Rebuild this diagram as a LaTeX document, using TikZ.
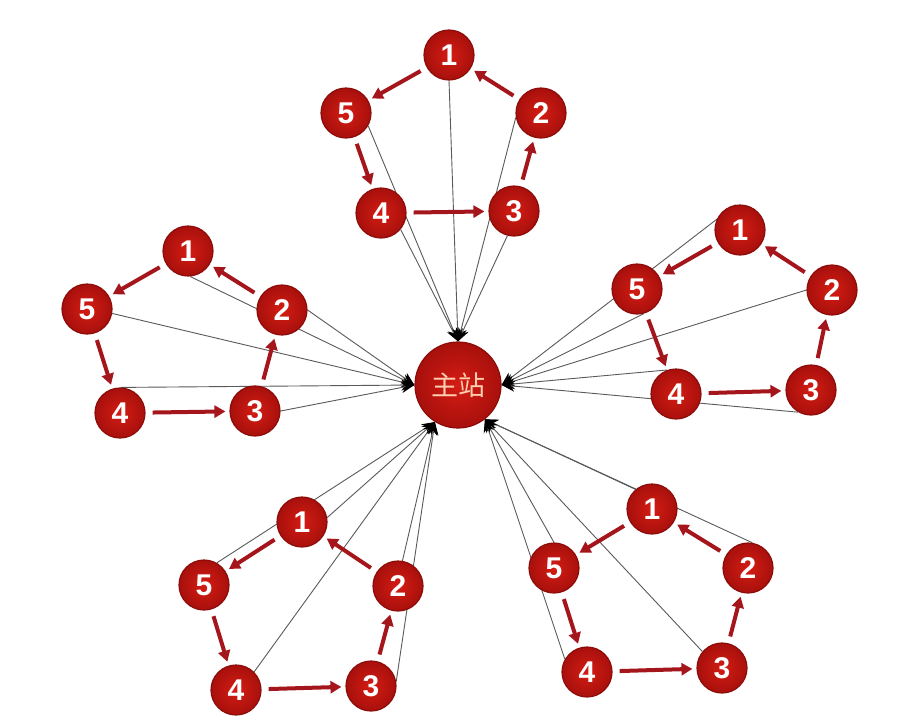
\documentclass[tikz,border=0pt]{standalone}
\usepackage{fontspec}
\setmainfont{Liberation Sans}
\newfontfamily\cjk{Noto Sans CJK SC}
\usetikzlibrary{arrows.meta}
\definecolor{nodered}{RGB}{212,28,20}
\definecolor{noderim}{RGB}{168,16,12}
\definecolor{nodeedge}{RGB}{140,12,10}
\definecolor{arrred}{RGB}{165,22,28}
\definecolor{linegray}{RGB}{90,90,90}
\definecolor{zhutext}{RGB}{255,205,175}
\pgfdeclarelayer{bg}
\pgfdeclarelayer{lines}
\pgfsetlayers{bg,lines,main}
\tikzset{
  station/.style={circle, minimum size=50pt, inner sep=0pt, inner color=nodered, outer color=noderim, draw=nodeedge, line width=1.2pt, text=white, font=\bfseries\fontsize{30}{30}\selectfont},
  master/.style={circle, minimum size=86pt, inner sep=0pt, inner color=nodered, outer color=noderim, draw=nodeedge, line width=1.2pt, text=zhutext, font=\cjk\fontsize{27}{27}\selectfont},
  ring/.style={draw=arrred, line width=4pt, -{Triangle[length=11pt,width=12pt]}, shorten <=7pt, shorten >=4pt},
  feed/.style={draw=linegray, line width=0.9pt, -{Stealth[length=13pt,width=11pt,black]}}
}
\begin{document}
\begin{tikzpicture}[x=1pt,y=-1pt]
\useasboundingbox (0,0) rectangle (902,721);
\begin{pgfonlayer}{bg}
\fill[white] (0,0) rectangle (902,721);
\end{pgfonlayer}
% master
\node[master] (M) at (458,385) {主站};
% top group
\node[station] (T1) at (449,55) {1};
\node[station] (T2) at (541,113) {2};
\node[station] (T3) at (514,211) {3};
\node[station] (T4) at (381,213) {4};
\node[station] (T5) at (346,113) {5};
% left group
\node[station] (L1) at (188,251) {1};
\node[station] (L2) at (282,310) {2};
\node[station] (L3) at (255,411) {3};
\node[station] (L4) at (120,413) {4};
\node[station] (L5) at (87,309) {5};
% right group
\node[station] (R1) at (740,230) {1};
\node[station] (R2) at (832,290) {2};
\node[station] (R3) at (811,390) {3};
\node[station] (R4) at (676,394) {4};
\node[station] (R5) at (637,289) {5};
% bottom-left group
\node[station] (A1) at (302,522) {1};
\node[station] (A2) at (398,586) {2};
\node[station] (A3) at (371,686) {3};
\node[station] (A4) at (236,690) {4};
\node[station] (A5) at (204,585) {5};
% bottom-right group
\node[station] (B1) at (652,509) {1};
\node[station] (B2) at (748,568) {2};
\node[station] (B3) at (722,668) {3};
\node[station] (B4) at (587,672) {4};
\node[station] (B5) at (554,568) {5};
% ring arrows
\foreach \g in {T,L,R,A,B}{
  \draw[ring] (\g1) -- (\g5);
  \draw[ring] (\g5) -- (\g4);
  \draw[ring] (\g4) -- (\g3);
  \draw[ring] (\g3) -- (\g2);
  \draw[ring] (\g2) -- (\g1);
}
% feed lines
\begin{pgfonlayer}{lines}
\draw[feed] (T5.-30) -- (M.90);
\draw[feed] (T1.-90) -- (M.90);
\draw[feed] (T2.190) -- (M.90);
\draw[feed] (T4.-40) -- (M.90);
\draw[feed] (T3.-105) -- (M.90);
\draw[feed] (L1.-85) -- (M.180);
\draw[feed] (L5.-10) -- (M.180);
\draw[feed] (L2.0) -- (M.180);
\draw[feed] (L4.88) -- (M.180);
\draw[feed] (L3.0) -- (M.180);
\draw[feed] (R1.100) -- (M.0);
\draw[feed] (R5.-75) -- (M.0);
\draw[feed] (R2.180) -- (M.0);
\draw[feed] (R4.110) -- (M.0);
\draw[feed] (R3.-120) -- (M.0);
\draw[feed] (A5.60) -- (M.-122);
\draw[feed] (A1.10) -- (M.-122);
\draw[feed] (A4.45) -- (M.-122);
\draw[feed] (A2.80) -- (M.-122);
\draw[feed] (A3.10) -- (M.-122);
\draw[feed] (B1.130) -- (M.-52);
\draw[feed] (B2.80) -- (M.-52);
\draw[feed] (B5.90) -- (M.-52);
\draw[feed] (B4.150) -- (M.-52);
\draw[feed] (B3.140) -- (M.-52);
\end{pgfonlayer}
\end{tikzpicture}
\end{document}
